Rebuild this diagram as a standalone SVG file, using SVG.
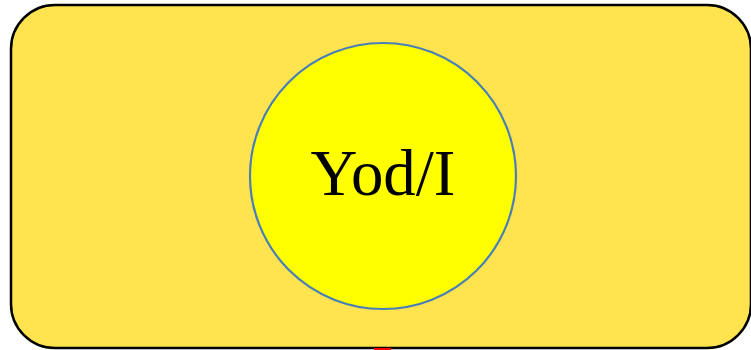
<svg xmlns="http://www.w3.org/2000/svg" width="751" height="350" viewBox="0 0 751 350">
<style>
.outer{fill:#ffe34f;stroke:#000;stroke-width:2.5}
.inner{fill:#ffff00;stroke:#4a7fb5;stroke-width:2.2}
.lbl{font-family:"Liberation Serif","Times New Roman",serif;font-size:66px;fill:#000}
.edge{stroke:#ff0000;stroke-width:3;fill:none}
</style>
<g id="outer-node">
<rect class="outer" x="11" y="5" width="740" height="343" rx="44" ry="44"/>
</g>
<g id="connectors">
<line class="edge" x1="374" y1="349.5" x2="391" y2="349.5"/>
</g>
<g id="yod-node">
<circle class="inner" cx="383" cy="176" r="133"/>
<text class="lbl" x="383" y="195" text-anchor="middle" textLength="145" lengthAdjust="spacingAndGlyphs">Yod/I</text>
</g>
</svg>
